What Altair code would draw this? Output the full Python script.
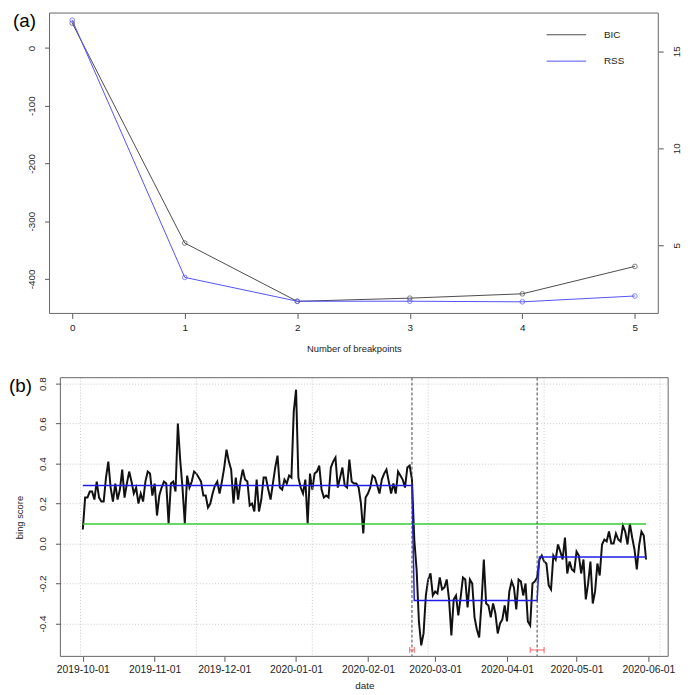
import altair as alt
import pandas as pd

# ---------------- panel (a) values ----------------
n_breakpoints = [0, 1, 2, 3, 4, 5]
bic_values = [43.0, -338.0, -439.0, -433.5, -426.0, -378.5]
rss_values = [16.6, 3.34, 2.11, 2.11, 2.08, 2.38]
legend_series = ["BIC", "RSS"]

# ---------------- panel (b) values ----------------
start_date = "2019-10-01"
bing_score = [
    0.07, 0.23, 0.23, 0.26, 0.26, 0.22, 0.31, 0.23, 0.21, 0.21,
    0.33, 0.41, 0.28, 0.21, 0.30, 0.22, 0.27, 0.37, 0.23, 0.30,
    0.36, 0.31, 0.25, 0.28, 0.20, 0.25, 0.21, 0.31, 0.36, 0.35,
    0.24, 0.30, 0.14, 0.24, 0.28, 0.31, 0.30, 0.10, 0.30, 0.31,
    0.26, 0.60, 0.42, 0.28, 0.10, 0.34, 0.28, 0.31, 0.36, 0.35,
    0.33, 0.31, 0.24, 0.24, 0.18, 0.20, 0.25, 0.29, 0.31, 0.25,
    0.31, 0.38, 0.47, 0.41, 0.37, 0.20, 0.33, 0.22, 0.31, 0.37,
    0.32, 0.31, 0.19, 0.20, 0.16, 0.32, 0.16, 0.22, 0.33, 0.33,
    0.27, 0.22, 0.30, 0.38, 0.44, 0.28, 0.27, 0.32, 0.30, 0.34,
    0.33, 0.66, 0.77, 0.33, 0.28, 0.25, 0.32, 0.10, 0.35, 0.27,
    0.35, 0.36, 0.39, 0.27, 0.23, 0.24, 0.23, 0.38, 0.41, 0.43,
    0.28, 0.33, 0.38, 0.29, 0.28,
    0.42, 0.31, 0.30, 0.30, 0.28, 0.20, 0.05, 0.23, 0.25, 0.28,
    0.34, 0.33, 0.29, 0.25, 0.32, 0.35, 0.37, 0.31, 0.25, 0.30,
    0.25, 0.36, 0.34, 0.32, 0.28, 0.38, 0.39, 0.32, 0.02, -0.13,
    -0.39, -0.51, -0.45, -0.26, -0.18, -0.15, -0.26, -0.24, -0.25, -0.17,
    -0.23, -0.22, -0.18, -0.28,
    -0.46, -0.28, -0.26, -0.36, -0.27, -0.17, -0.18, -0.32, -0.18, -0.20,
    -0.37, -0.43, -0.47, -0.30, -0.08, -0.30, -0.31, -0.37, -0.30, -0.35,
    -0.45, -0.40, -0.38, -0.31, -0.39, -0.24, -0.19, -0.22, -0.33, -0.18,
    -0.19, -0.26, -0.20, -0.39, -0.41, -0.20, -0.19, -0.17,
    -0.08, -0.06, -0.09, -0.10, -0.21, -0.23, -0.06, -0.08, -0.005, -0.04,
    -0.08, 0.03, -0.15, -0.09, -0.13, -0.14, -0.04, -0.06, -0.15, -0.08,
    -0.28, -0.20, -0.09, -0.30, -0.24, -0.10, -0.16, -0.005, 0.02, 0.01,
    0.06, 0.00, 0.00, 0.05, 0.02, 0.01, 0.09, 0.06, -0.005, 0.10,
    0.03, -0.03, -0.13, -0.01, 0.06, 0.04, -0.08,
]
segment_means = [0.29, -0.285, -0.067]
breakpoint_dates = ["2020-02-20", "2020-04-14"]
ci_lower = ["2020-02-19", "2020-04-11"]
ci_upper = ["2020-02-21", "2020-04-17"]
reference_level = [0.098]
grid_dates = ["2019-09-30", "2019-11-19", "2020-01-08", "2020-02-27", "2020-04-17", "2020-06-06"]
month_ticks = [(2019, 10), (2019, 11), (2019, 12), (2020, 1), (2020, 2),
               (2020, 3), (2020, 4), (2020, 5), (2020, 6)]
bing_ticks = [-0.4, -0.2, 0.0, 0.2, 0.4, 0.6, 0.8]
bic_ticks = [-400, -300, -200, -100, 0]
rss_ticks = [5, 10, 15]

FONT = "Liberation Sans"
TXT = "#222222"
FRAME = "#666666"
BIC_COL = "#4a4a4a"
RSS_COL = "#5050ff"
SERIES_COLORS = [BIC_COL, RSS_COL]
LEGEND_ROW_Y = [22, 48.7]

# ================= panel (a) =================
# plot origin is shared with panel (b); panel (a) is drawn 11px further left
A_W, A_H, A_SHIFT = 605, 304, 11

bic_df = pd.DataFrame({"k": n_breakpoints, "value": bic_values, "series": "BIC"})
rss_df = pd.DataFrame({"k": n_breakpoints, "value": rss_values, "series": "RSS"})

x_a = alt.X("k:Q", scale=alt.Scale(domain=[-0.202, 5.208], range=[-A_SHIFT, A_W], nice=False, zero=False),
            axis=alt.Axis(values=n_breakpoints, format="d", title="Number of breakpoints",
                          grid=False, tickSize=5, labelPadding=4, labelFontSize=10,
                          titleFontSize=9.5, titleFontWeight="normal",
                          titleX=(A_W - A_SHIFT) / 2, titleY=35, titleBaseline="middle"))
y_bic = alt.Y("value:Q", scale=alt.Scale(domain=[-460, 60.5], nice=False, zero=False),
              axis=alt.Axis(values=bic_ticks, orient="left", title=None, grid=False, offset=A_SHIFT,
                            labelAngle=270, labelAlign="center", labelBaseline="bottom",
                            labelExpr="datum.value + ''",
                            tickSize=5, labelPadding=8, labelFontSize=10))
y_rss = alt.Y("value:Q", scale=alt.Scale(domain=[1.48, 16.97], nice=False, zero=False),
              axis=alt.Axis(values=rss_ticks, orient="right", title=None, grid=False,
                            labelAngle=270, labelAlign="center", labelBaseline="top",
                            tickSize=5, labelPadding=8, labelFontSize=10))

frame_a = alt.Chart(pd.DataFrame({"f": [0]})).mark_rect(
    fillOpacity=0, stroke=FRAME, strokeWidth=1
).encode(x=alt.value(-A_SHIFT), x2=alt.value(A_W), y=alt.value(0), y2=alt.value(A_H))

bic_line = alt.Chart(bic_df).mark_line(strokeWidth=1, color=BIC_COL).encode(x=x_a, y=y_bic)
bic_pts = alt.Chart(bic_df).mark_point(shape="circle", filled=False, size=22,
                                       strokeWidth=1, color=BIC_COL).encode(x=x_a, y=y_bic)
rss_line = alt.Chart(rss_df).mark_line(strokeWidth=1, color=RSS_COL).encode(x=x_a, y=y_rss)
rss_pts = alt.Chart(rss_df).mark_point(shape="circle", filled=False, size=22,
                                       strokeWidth=1, color=RSS_COL).encode(x=x_a, y=y_rss)

legend_layers = []
for name, col, ly in zip(legend_series, SERIES_COLORS, LEGEND_ROW_Y):
    ldf = pd.DataFrame({"series": [name]})
    legend_layers.append(alt.Chart(ldf).mark_rule(strokeWidth=1, color=col).encode(
        x=alt.value(492), x2=alt.value(532), y=alt.value(ly)))
    legend_layers.append(alt.Chart(ldf).mark_text(align="left", baseline="middle", fontSize=10,
                                                  font=FONT, color=TXT).encode(
        x=alt.value(550), y=alt.value(ly), text="series:N"))

label_a = alt.Chart(pd.DataFrame({"t": ["(a)"]})).mark_text(
    align="left", baseline="middle", fontSize=19, font=FONT, color="#000"
).encode(text="t:N", x=alt.value(-48), y=alt.value(8.5))

panel_a = alt.layer(
    frame_a,
    alt.layer(bic_line, bic_pts),
    alt.layer(rss_line, rss_pts),
    *legend_layers,
    label_a,
).resolve_scale(y="independent").properties(width=A_W, height=A_H)

# ================= panel (b) =================
B_W, B_H = 615, 282
dates = pd.date_range(start_date, periods=len(bing_score), freq="D")
bp_ts = [pd.Timestamp(d) for d in breakpoint_dates]
fitted = [segment_means[0] if d <= bp_ts[0] else (segment_means[1] if d <= bp_ts[1] else segment_means[2])
          for d in dates]
date_str = [d.strftime("%Y-%m-%d") for d in dates]
bing_df = pd.DataFrame({"date": date_str, "score": bing_score, "fitted": fitted})

x_scale_b = alt.Scale(type="utc", domain=[alt.DateTime(year=2019, month=9, date=21, hours=7, minutes=40, utc=True),
                                         alt.DateTime(year=2020, month=6, date=9, hours=12, minutes=45, utc=True)],
                      nice=False)
x_axis_b = alt.Axis(values=[alt.DateTime(year=y, month=m, date=1, utc=True) for y, m in month_ticks],
                    labelExpr="utcFormat(datum.value, '%Y-%m-%d')", title="date",
                    grid=False, tickSize=5, labelPadding=3, labelFontSize=10.5,
                    titleFontSize=10, titleFontWeight="normal",
                    titleY=29, titleBaseline="middle")
y_scale_b = alt.Scale(domain=[-0.565, 0.83], nice=False, zero=False)
y_axis_b = alt.Axis(values=bing_ticks, title="bing score", grid=True,
                    gridDash=[1, 2], gridColor="#c8c8c8", gridWidth=1,
                    labelAngle=270, labelAlign="center", labelBaseline="bottom",
                    labelExpr="datum.value < 0 ? '-' + format(-datum.value, '.1f') : format(datum.value, '.1f')",
                    tickSize=5, labelPadding=8, labelFontSize=10,
                    titleFontSize=9.5, titleFontWeight="normal", titleAngle=270,
                    titleX=-41.5, titleY=B_H / 2, titleAlign="center", titleBaseline="middle")


def xb(field):
    return alt.X(field, scale=x_scale_b, axis=x_axis_b)


def yb(field):
    return alt.Y(field, scale=y_scale_b, axis=y_axis_b)


frame_b = alt.Chart(pd.DataFrame({"f": [0]})).mark_rect(
    fillOpacity=0, stroke=FRAME, strokeWidth=1
).encode(x=alt.value(0), x2=alt.value(B_W), y=alt.value(0), y2=alt.value(B_H))

score_line = alt.Chart(bing_df).mark_line(color="#111111", strokeWidth=2).encode(x=xb("date:T"), y=yb("score:Q"))

vgrid = alt.Chart(pd.DataFrame({"date": grid_dates})).mark_rule(
    color="#c8c8c8", strokeDash=[1, 2], strokeWidth=1).encode(x=xb("date:T"))

green = alt.Chart(pd.DataFrame({"d0": [date_str[0]], "d1": [date_str[-1]], "lvl": reference_level})).mark_rule(
    color="#33cc33", strokeWidth=1.5).encode(x=xb("d0:T"), x2="d1:T", y=yb("lvl:Q"))

fit_line = alt.Chart(bing_df).mark_line(color="#1e1ee8", strokeWidth=1.5).encode(
    x=xb("date:T"), y=yb("fitted:Q"))

bp_rules = alt.Chart(pd.DataFrame({"date": breakpoint_dates})).mark_rule(
    color="#444444", strokeDash=[3, 2], strokeWidth=1).encode(x=xb("date:T"))

ci_df = pd.DataFrame({"lo": ci_lower, "hi": ci_upper})
ci_bar = alt.Chart(ci_df).mark_rule(color="#ff6060", strokeWidth=1).encode(
    x=xb("lo:T"), x2="hi:T", y=alt.value(275.5))
ci_cap_lo = alt.Chart(ci_df).mark_rule(color="#ff6060", strokeWidth=1).encode(
    x=xb("lo:T"), y=alt.value(272.5), y2=alt.value(278.5))
ci_cap_hi = alt.Chart(ci_df).mark_rule(color="#ff6060", strokeWidth=1).encode(
    x=xb("hi:T"), y=alt.value(272.5), y2=alt.value(278.5))

label_b = alt.Chart(pd.DataFrame({"t": ["(b)"]})).mark_text(
    align="left", baseline="middle", fontSize=19, font=FONT, color="#000"
).encode(text="t:N", x=alt.value(-52), y=alt.value(8))

panel_b = alt.layer(
    score_line, vgrid, green, fit_line, bp_rules, ci_bar, ci_cap_lo, ci_cap_hi, frame_b, label_b
).properties(width=B_W, height=B_H)

chart = alt.vconcat(panel_a, panel_b, spacing=23).properties(
    padding=0, background="white"
).configure_view(
    stroke="transparent"
).configure_axis(
    labelFont=FONT, titleFont=FONT, labelColor=TXT, titleColor=TXT,
    tickColor="#555555", domain=False
)

chart.save("out.html", embed_options={"renderer": "svg", "actions": False})
